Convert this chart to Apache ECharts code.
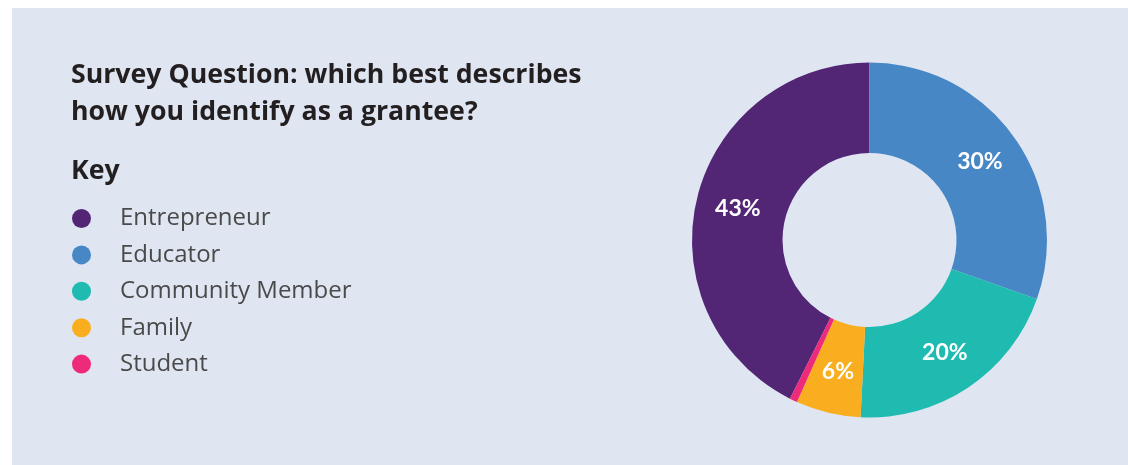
<!DOCTYPE html>
<html>
<head>
<meta charset="utf-8">
<script src="https://cdn.jsdelivr.net/npm/echarts@6/dist/echarts.min.js"></script>
<style>
html,body{margin:0;padding:0;background:#ffffff;}
#chart{width:1128px;height:465px;}
</style>
</head>
<body>
<div id="chart"></div>
<script>
const titleText = 'Survey Question: which best describes\nhow you identify as a grantee?';
const keyText = 'Key';
const categories = ['Entrepreneur', 'Educator', 'Community Member', 'Family', 'Student'];
const values = [42.6, 30.4, 20.4, 5.9, 0.7];
const colors = ['#522675', '#4787c6', '#1fbbb0', '#f9ae1f', '#ee2a7b'];

const total = values.reduce((a, b) => a + b, 0);
const startAngle = 90 + values[0] / total * 360;

const chart = echarts.init(document.getElementById('chart'), null, {renderer: 'canvas'});
chart.setOption({
  backgroundColor: '#ffffff',
  animation: false,
  graphic: [{
    type: 'rect', z: -100, silent: true,
    shape: {x: 12, y: 8, width: 1116, height: 457},
    style: {fill: '#dfe6f2'}
  }],
  title: [{
    text: titleText, left: 71, top: 57, padding: 0,
    textStyle: {fontFamily: 'Open Sans', fontWeight: 'bold', fontSize: 26.7, lineHeight: 37, color: '#231f20'}
  }, {
    text: keyText, left: 71, top: 153, padding: 0,
    textStyle: {fontFamily: 'Open Sans', fontWeight: 'bold', fontSize: 26.7, lineHeight: 37, color: '#231f20'}
  }],
  legend: {
    orient: 'vertical', left: 72, top: 206.5, padding: 0,
    icon: 'circle', itemWidth: 19, itemHeight: 19, itemGap: 12.4,
    selectedMode: false,
    data: categories,
    textStyle: {fontFamily: 'Open Sans', fontSize: 24, lineHeight: 19, color: '#4a4a4a', padding: [0, 0, 0, 24]}
  },
  series: [{
    type: 'pie',
    center: [869.5, 240],
    radius: [87, 177.5],
    startAngle: startAngle,
    clockwise: true,
    avoidLabelOverlap: false,
    silent: true,
    label: {
      show: true, position: 'inside',
      fontFamily: 'Lato', fontWeight: 'bold', fontSize: 23, color: '#ffffff',
      formatter: p => p.value < 2 ? '' : Math.round(p.value) + '%'
    },
    labelLine: {show: false},
    itemStyle: {borderWidth: 0},
    data: categories.map((c, i) => ({name: c, value: values[i], itemStyle: {color: colors[i]}}))
  }]
});
</script>
</body>
</html>
